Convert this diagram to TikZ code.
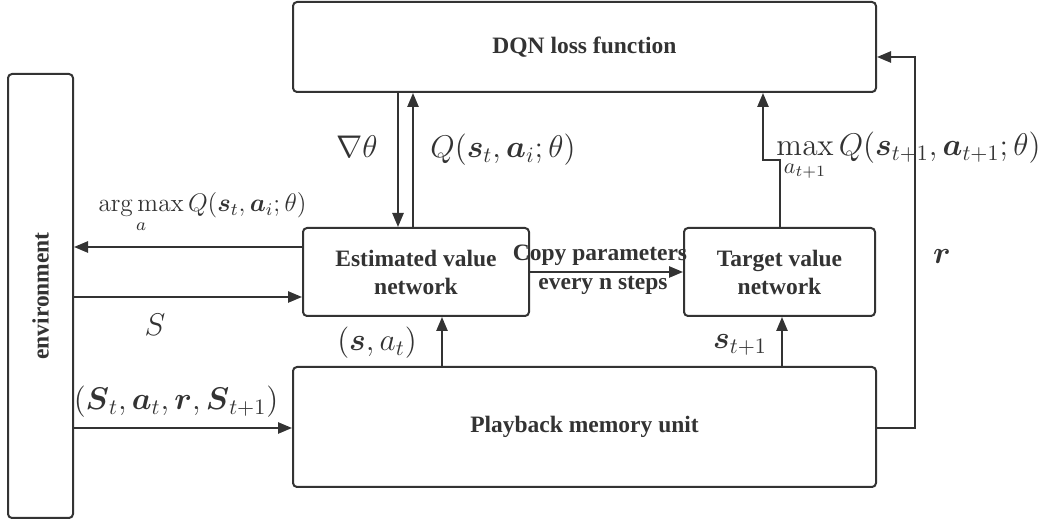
\RequirePackage{fix-cm}
\documentclass[tikz,border=0pt]{standalone}
\usepackage{amsmath}
\usepackage[no-math]{fontspec}
\setmainfont{Liberation Serif}
\usetikzlibrary{arrows.meta,calc}
\definecolor{ink}{HTML}{333333}
\tikzset{
  boxnode/.style={draw=ink,line width=1pt,rounded corners=2pt,fill=white,inner sep=0pt,align=center,
    font=\fontsize{11.75}{14}\selectfont\bfseries,text=ink},
  arr/.style={draw=ink,line width=1pt,-{Triangle[length=7pt,width=5.6pt]}},
  mlbl/.style={font=\fontsize{15.7}{18}\selectfont,text=ink,inner sep=0pt},
  slbl/.style={font=\fontsize{12.7}{15}\selectfont,text=ink,inner sep=0pt},
  tlbl/.style={font=\fontsize{11.75}{14}\selectfont\bfseries,text=ink,inner sep=0pt}
}
\begin{document}
\begin{tikzpicture}[x=0.5pt,y=-0.5pt]
\useasboundingbox (0,0) rectangle (1049,522);
% boxes
\node[boxnode,minimum width=291.5pt,minimum height=45pt] (dqn) at (584.5,47) {DQN loss function};
\node[boxnode,minimum width=32.5pt,minimum height=222pt] (env) at (40.5,296) {};
\node[tlbl,rotate=90] (envt) at (40.5,296) {environment};
\node[boxnode,minimum width=113pt,minimum height=44pt] (est) at (416,272) {Estimated value\\network};
\node[boxnode,minimum width=95.5pt,minimum height=44pt] (tgt) at (779.5,272) {Target value\\network};
\node[boxnode,minimum width=291.5pt,minimum height=60pt] (pb) at (584.5,427) {Playback memory unit};
% coordinates
\coordinate (rc) at (915,57);
\coordinate (jog) at (763,160);
% connectors
\draw[arr] (est.west |- 0,247) -- (env.east |- 0,247);
\draw[arr] (env.east |- 0,297) -- (est.west |- 0,297);
\draw[arr] (env.east |- 0,428) -- (pb.west |- 0,428);
\draw[arr] (dqn.south -| 398,0) -- (est.north -| 398,0);
\draw[arr] (est.north -| 413,0) -- (dqn.south -| 413,0);
\draw[arr] (est.east) -- (tgt.west);
\draw[arr] (pb.north -| 442,0) -- (est.south -| 442,0);
\draw[arr] (pb.north -| 782,0) -- (tgt.south -| 782,0);
\draw[arr] (pb.east |- 0,428) -| (rc) -- (dqn.east |- rc);
\draw[arr] (tgt.north -| 780,0) |- (jog) -- (dqn.south -| jog);
% labels
\node[slbl,anchor=north west] (largmax) at (98,192) {$\displaystyle\operatorname*{arg\,max}_a Q(\boldsymbol{s}_t,\boldsymbol{a}_i;\theta)$};
\node[mlbl] (lS) at (155,325) {$S$};
\node[mlbl] (ltuple) at (176,402) {$(\boldsymbol{S}_t,\boldsymbol{a}_t,\boldsymbol{r},\boldsymbol{S}_{t+1})$};
\node[mlbl] (lgrad) at (357,147) {$\nabla\theta$};
\node[mlbl] (lq) at (503,150) {$Q(\boldsymbol{s}_t,\boldsymbol{a}_i;\theta)$};
\node[mlbl] (lsa) at (377,343) {$(\boldsymbol{s},a_t)$};
\node[mlbl] (lst) at (740,345) {$\boldsymbol{s}_{t+1}$};
\node[mlbl,anchor=north west] (lmax) at (776,132) {$\displaystyle\max_{a_{t+1}} Q(\boldsymbol{s}_{t+1},\boldsymbol{a}_{t+1};\theta)$};
\node[mlbl] (lr) at (942,257) {$\boldsymbol{r}$};
\node[tlbl] (lcopy1) at (600,255) {Copy parameters};
\node[tlbl] (lcopy2) at (603,285) {every n steps};
\end{tikzpicture}
\end{document}
